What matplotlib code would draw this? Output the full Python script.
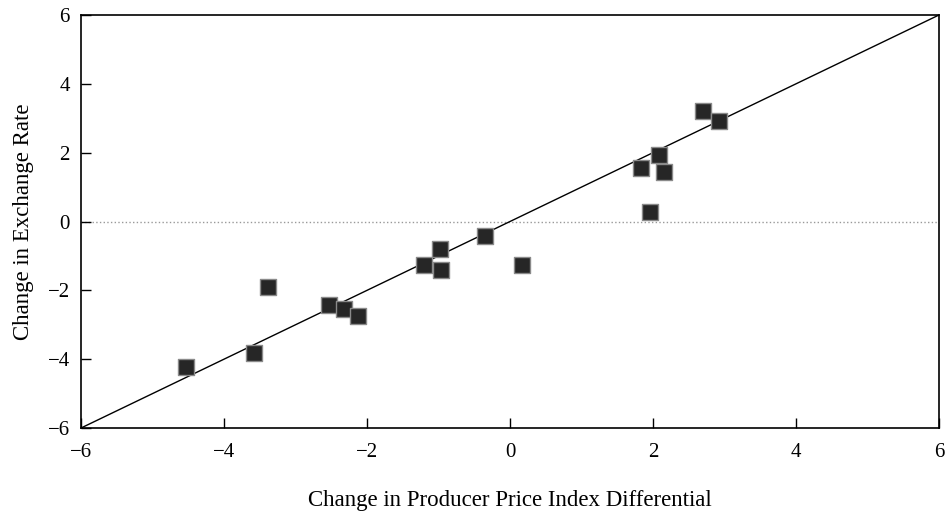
import matplotlib
matplotlib.use("Agg")
import matplotlib.pyplot as plt

# Cambio en el diferencial de precios al productor vs cambio en tipo de cambio
ppi_diff = [-4.53, -3.58, -3.38, -2.53, -2.32, -2.12, -1.20, -0.98, -0.96,
            -0.35, 0.17, 1.83, 1.96, 2.09, 2.15, 2.70, 2.93]
fx_change = [-4.23, -3.82, -1.90, -2.43, -2.54, -2.75, -1.26, -0.80, -1.41,
             -0.42, -1.26, 1.56, 0.28, 1.93, 1.44, 3.21, 2.92]
ticks = [-6, -4, -2, 0, 2, 4, 6]
line_ends = [-6, 6]

plt.rcParams['font.family'] = ['Liberation Serif', 'DejaVu Serif']

fig = plt.figure(figsize=(9.49, 5.14), dpi=100)
ax = fig.add_axes([0.0854, 0.1673, 0.904, 0.8035])

ax.axhline(0, color='#999999', linestyle=':', linewidth=1.0, zorder=1)
ax.plot(line_ends, line_ends, color='black', linewidth=1.0, zorder=2)
ax.scatter(ppi_diff, fx_change, marker='s', s=140, color='#262626',
           edgecolors='#8a8a8a', linewidths=1.0, zorder=3)

ax.set_xlim(-6, 6)
ax.set_ylim(-6, 6)
ax.set_xticks(ticks)
ax.set_yticks(ticks)
ax.tick_params(axis='x', direction='in', length=7, width=1, labelsize=15, pad=11)
ax.tick_params(axis='y', direction='in', length=7, width=1, labelsize=15, pad=8)
for s in ax.spines.values():
    s.set_linewidth(1.2)

ax.set_xlabel("Change in Producer Price Index Differential", fontsize=16.5, labelpad=20)
ax.set_ylabel("Change in Exchange Rate", fontsize=16.5, labelpad=10)

fig.savefig("out.png", dpi=100)
